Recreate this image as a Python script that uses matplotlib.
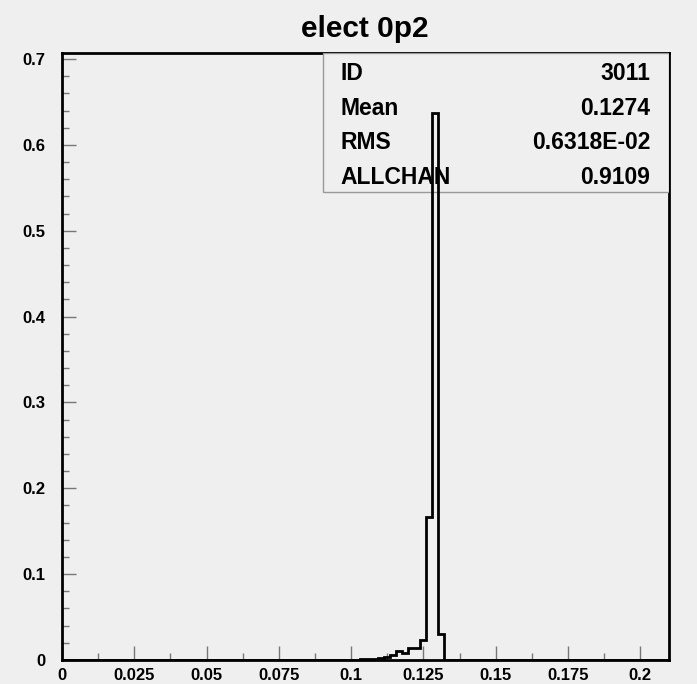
import numpy as np
import matplotlib
matplotlib.use('Agg')
import matplotlib.pyplot as plt
from matplotlib.patches import Rectangle
from matplotlib.ticker import MultipleLocator

plt.rcParams['font.family'] = ['Liberation Sans', 'DejaVu Sans']
plt.rcParams['font.weight'] = 'bold'

## histogram: 100 bins over [0, 0.21]
x_lo, x_hi, n_bins = 0.0, 0.21, 100
first_bin = 49
tail_counts = [0.0012, 0.0012, 0.0013, 0.0022, 0.003, 0.0058, 0.0105,
               0.008, 0.0135, 0.0135, 0.023, 0.166, 0.637, 0.030]

stats_labels = ['ID', 'Mean', 'RMS', 'ALLCHAN']
stats_values = ['3011', '0.1274', '0.6318E-02', '0.9109']

title = 'elect 0p2'
bg = '#efefef'

counts = np.zeros(n_bins)
counts[first_bin:first_bin + len(tail_counts)] = tail_counts
edges = np.linspace(x_lo, x_hi, n_bins + 1)

fig = plt.figure(figsize=(6.97, 6.84), dpi=100, facecolor=bg)
ax = fig.add_axes([0.089, 0.0351, 0.871, 0.8874], facecolor=bg)

ax.stairs(counts, edges, color='black', linewidth=2.0, zorder=5)

ax.set_xlim(x_lo, x_hi)
ax.set_ylim(0, 0.707)

ax.xaxis.set_major_locator(MultipleLocator(0.025))
ax.xaxis.set_minor_locator(MultipleLocator(0.0125))
ax.yaxis.set_major_locator(MultipleLocator(0.1))
ax.yaxis.set_minor_locator(MultipleLocator(0.02))
ax.set_xticks(np.arange(0, 0.2001, 0.025))
ax.set_xticklabels(['0', '0.025', '0.05', '0.075', '0.1', '0.125', '0.15', '0.175', '0.2'])
ax.set_yticks(np.arange(0, 0.7001, 0.1))
ax.set_yticklabels(['0', '0.1', '0.2', '0.3', '0.4', '0.5', '0.6', '0.7'])

ax.tick_params(which='both', direction='in', top=False, right=False,
               color='#777777', width=1.0, labelsize=12)
ax.tick_params(which='major', length=10)
ax.tick_params(which='minor', length=5)
ax.tick_params(axis='y', which='major', pad=12)
ax.tick_params(axis='x', which='major', pad=6)

for sp in ax.spines.values():
    sp.set_linewidth(2.0)
    sp.set_color('black')

# stats box
bx0, by0 = 0.4295, 0.7715
ax.add_patch(Rectangle((bx0, by0), 1 - bx0, 1 - by0, transform=ax.transAxes,
                       facecolor=bg, edgecolor='#999999', linewidth=1.0, zorder=3))
row_h = (1 - by0) / 4
for i, (lab, val) in enumerate(zip(stats_labels, stats_values)):
    yy = 1 - row_h * (i + 0.5) - 0.005
    ax.text(0.4585, yy, lab, transform=ax.transAxes, fontsize=16.5,
            fontweight='bold', va='center', ha='left', zorder=4)
    ax.text(0.969, yy, val, transform=ax.transAxes, fontsize=16.5,
            fontweight='bold', va='center', ha='right', zorder=4)

fig.text(0.524, 0.958, title, fontsize=21.5, fontweight='bold',
         ha='center', va='center')

fig.savefig('out.png', dpi=100, facecolor=bg)
